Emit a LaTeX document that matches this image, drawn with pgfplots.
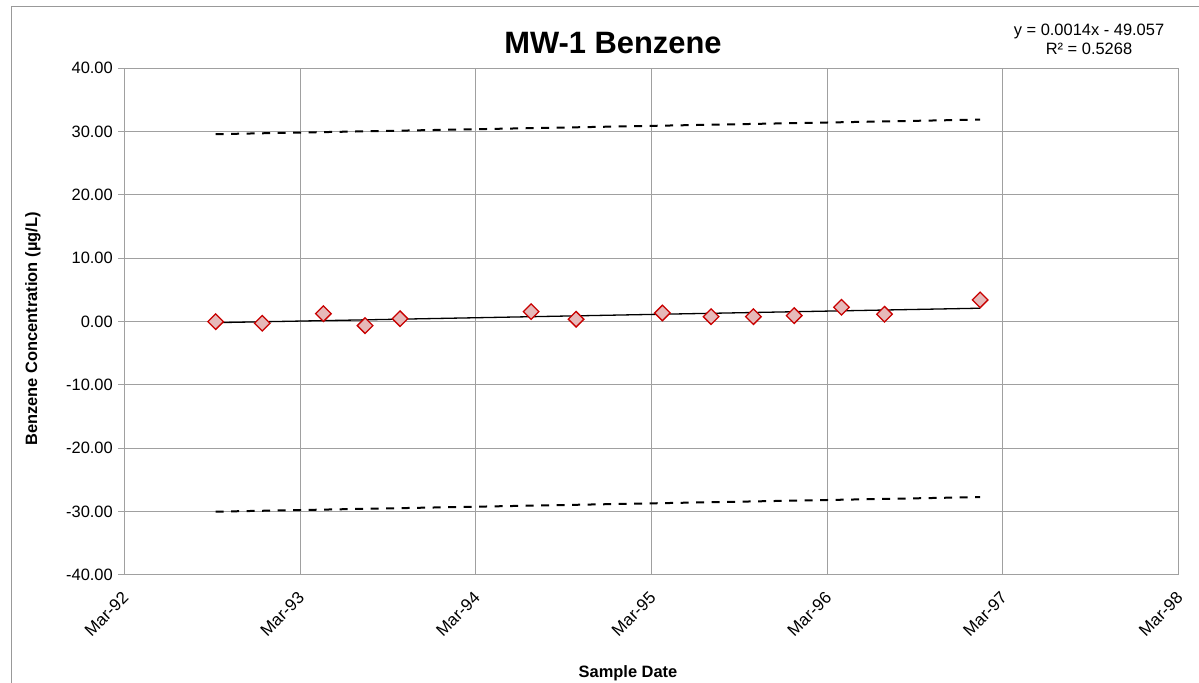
\documentclass[border=0pt]{standalone}
\usepackage{fontspec}
\setmainfont{Liberation Sans}
\usepackage{pgfplots}
\pgfplotsset{compat=1.18}
\definecolor{gridgray}{RGB}{160,160,160}
\definecolor{mkfill}{RGB}{230,185,185}
\definecolor{mkedge}{RGB}{200,0,0}
\begin{document}
\begin{tikzpicture}[x=1bp,y=1bp]
\path[use as bounding box] (0,0) rectangle (1199,683);
\draw[gray!80, line width=1bp] (11,0) -- (11,676) -- (1199,676);
\begin{axis}[
  at={(124.3bp,108bp)}, anchor=south west,
  scale only axis, width=1054.4bp, height=506.7bp,
  xmin=0, xmax=6, ymin=-40, ymax=40,
  xtick={0,1,2,3,4,5,6},
  xticklabels={Mar-92,Mar-93,Mar-94,Mar-95,Mar-96,Mar-97,Mar-98},
  ytick={-40,-30,-20,-10,0,10,20,30,40},
  yticklabels={-40.00,-30.00,-20.00,-10.00,0.00,10.00,20.00,30.00,40.00},
  grid=major,
  major grid style={gridgray, line width=1bp},
  axis line style={gridgray, line width=1bp},
  xtick style={draw=none},
  ytick style={gridgray, line width=1bp},
  ytick align=outside, tick pos=left,
  major tick length=6bp,
  yticklabel style={font=\fontsize{16.5}{18}\selectfont, xshift=-2bp},
  xticklabel style={font=\fontsize{17}{18}\selectfont, rotate=45, anchor=east, xshift=-10bp, yshift=-15bp},
  clip=false,
]
\addplot[black, line width=2bp, dash pattern=on 8bp off 7.5bp] coordinates {(0.52,29.6) (4.87,31.9)};
\addplot[black, line width=2bp, dash pattern=on 8bp off 7.5bp] coordinates {(0.52,-30.0) (4.87,-27.7)};
\addplot[black, line width=1.3bp] coordinates {(0.52,-0.16) (4.87,2.12)};
\addplot[only marks, mark=square*, mark size=5.5bp,
  mark options={rotate=45, fill=mkfill, draw=mkedge, line width=1.3bp}]
  coordinates {
  (0.520,0.00) (0.785,-0.25) (1.133,1.26) (1.370,-0.63) (1.569,0.47)
  (2.315,1.58) (2.571,0.38) (3.062,1.37) (3.339,0.79) (3.580,0.79)
  (3.812,0.95) (4.081,2.27) (4.326,1.17) (4.870,3.43)
  };
\end{axis}
\node[font=\fontsize{31}{34}\selectfont\bfseries] at (613,640) {MW-1 Benzene};
\node[font=\fontsize{16.5}{18}\selectfont, align=center] at (1089,644) {y = 0.0014x - 49.057\\[1bp]R² = 0.5268};
\node[font=\fontsize{16.5}{18}\selectfont\bfseries, rotate=90] at (33,354) {Benzene Concentration (µg/L)};
\node[font=\fontsize{16.5}{18}\selectfont\bfseries] at (628,10) {Sample Date};
\end{tikzpicture}
\end{document}
